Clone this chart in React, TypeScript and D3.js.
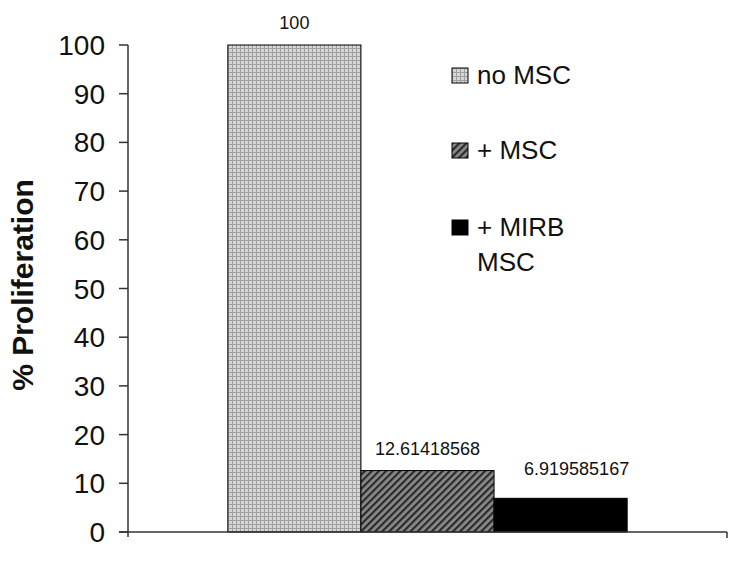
import React, { useEffect, useRef } from "react";
import * as d3 from "d3";

const seriesNames = ["no MSC", "+ MSC", "+ MIRB MSC"];
const values = [100, 12.61418568, 6.919585167];
const valueLabels = ["100", "12.61418568", "6.919585167"];
const yTicks = [0, 10, 20, 30, 40, 50, 60, 70, 80, 90, 100];
const legendLines = [["no MSC"], ["+ MSC"], ["+ MIRB", "MSC"]];

const W = 745;
const H = 561;
const font = "Arial, 'Liberation Sans', sans-serif";

const App = () => {
  const svgRef = useRef<SVGSVGElement>(null);

  useEffect(() => {
    const svg = d3.select(svgRef.current);
    svg.selectAll("*").remove();

    const x = d3
      .scaleBand()
      .domain(seriesNames)
      .range([128, 727])
      .paddingInner(0)
      .paddingOuter(0.75);
    const y = d3.scaleLinear().domain([0, 100]).range([532, 45]);

    const defs = svg.append("defs");
    const grid = defs
      .append("pattern")
      .attr("id", "grid")
      .attr("patternUnits", "userSpaceOnUse")
      .attr("width", 4)
      .attr("height", 4);
    grid.append("rect").attr("width", 4).attr("height", 4).attr("fill", "#d6d6d6");
    grid.append("rect").attr("width", 4).attr("height", 1).attr("fill", "#a0a0a0");
    grid.append("rect").attr("width", 1).attr("height", 4).attr("fill", "#a0a0a0");

    const hatch = defs
      .append("pattern")
      .attr("id", "hatch")
      .attr("patternUnits", "userSpaceOnUse")
      .attr("width", 5)
      .attr("height", 5)
      .attr("patternTransform", "rotate(45)");
    hatch.append("rect").attr("width", 5).attr("height", 5).attr("fill", "#8a8a8a");
    hatch.append("rect").attr("width", 2.2).attr("height", 5).attr("fill", "#2a2a2a");

    const fills = ["url(#grid)", "url(#hatch)", "#000"];

    // bars
    svg
      .append("g")
      .selectAll("rect")
      .data(values)
      .join("rect")
      .attr("x", (d, i) => x(seriesNames[i])!)
      .attr("y", (d) => y(d))
      .attr("width", x.bandwidth())
      .attr("height", (d) => y(0) - y(d))
      .attr("fill", (d, i) => fills[i])
      .attr("stroke", "#000")
      .attr("stroke-width", 1);

    // value labels
    svg
      .append("g")
      .selectAll("text")
      .data(values)
      .join("text")
      .attr("x", (d, i) => x(seriesNames[i])! + x.bandwidth() / 2 + (i === 2 ? 16 : 0))
      .attr("y", (d, i) => y(d) - (i === 2 ? 23 : 16))
      .attr("text-anchor", "middle")
      .attr("font-family", font)
      .attr("font-size", 18)
      .attr("fill", "#111")
      .text((d, i) => valueLabels[i]);

    // y axis
    const yAxis = svg.append("g");
    yAxis
      .append("line")
      .attr("x1", 128)
      .attr("x2", 128)
      .attr("y1", y(100))
      .attr("y2", y(0) + 5)
      .attr("stroke", "#333")
      .attr("stroke-width", 1.5);
    yTicks.forEach((t) => {
      yAxis
        .append("line")
        .attr("x1", 119)
        .attr("x2", 128)
        .attr("y1", y(t))
        .attr("y2", y(t))
        .attr("stroke", "#333")
        .attr("stroke-width", 1.5);
      yAxis
        .append("text")
        .attr("x", 105)
        .attr("y", y(t))
        .attr("dy", "0.36em")
        .attr("text-anchor", "end")
        .attr("font-family", font)
        .attr("font-size", 28)
        .attr("fill", "#111")
        .text(t);
    });

    // x axis
    svg
      .append("line")
      .attr("x1", 119)
      .attr("x2", 727)
      .attr("y1", y(0))
      .attr("y2", y(0))
      .attr("stroke", "#333")
      .attr("stroke-width", 1.5);
    svg
      .append("line")
      .attr("x1", 727)
      .attr("x2", 727)
      .attr("y1", y(0))
      .attr("y2", y(0) + 6)
      .attr("stroke", "#333")
      .attr("stroke-width", 1.5);

    // y title
    svg
      .append("text")
      .attr("transform", `translate(33, 285) rotate(-90)`)
      .attr("text-anchor", "middle")
      .attr("font-family", font)
      .attr("font-weight", "bold")
      .attr("font-size", 30)
      .attr("fill", "#111")
      .text("% Proliferation");

    // legend
    const legendTop = [68, 143, 220];
    const legend = svg.append("g");
    legendLines.forEach((lines, i) => {
      legend
        .append("rect")
        .attr("x", 452)
        .attr("y", legendTop[i])
        .attr("width", 16)
        .attr("height", 15)
        .attr("fill", fills[i])
        .attr("stroke", "#000")
        .attr("stroke-width", 1);
      lines.forEach((ln, j) => {
        legend
          .append("text")
          .attr("x", 477)
          .attr("y", legendTop[i] + 16 + j * 35)
          .attr("font-family", font)
          .attr("font-size", 26)
          .attr("fill", "#111")
          .text(ln);
      });
    });
  }, []);

  return (
    <svg
      ref={svgRef}
      width={W}
      height={H}
      style={{ position: "absolute", left: 0, top: 0, background: "#fff" }}
    />
  );
};

export default App;
